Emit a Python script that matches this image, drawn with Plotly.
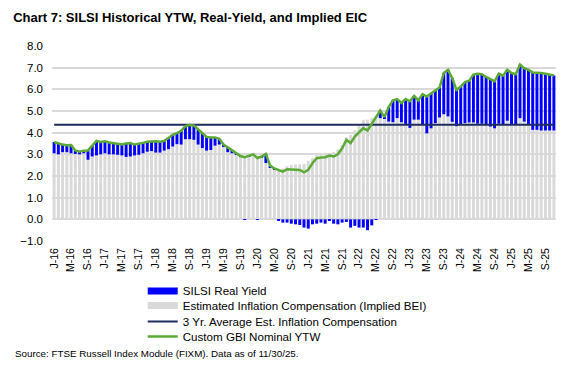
import plotly.graph_objects as go
import pandas as pd

# Monthly observations Jan-2016 .. Nov-2025
MONTHS = [d.strftime("%Y-%m") for d in pd.date_range("2016-01-01", "2025-11-01", freq="MS")]

NOMINAL_YTW = [3.57, 3.50, 3.45, 3.42, 3.43, 3.18, 3.12, 3.17, 3.18, 3.40, 3.62, 3.57,
               3.60, 3.55, 3.52, 3.48, 3.46, 3.50, 3.52, 3.45, 3.48, 3.53, 3.58, 3.60,
               3.60, 3.58, 3.62, 3.75, 3.90, 3.98, 4.08, 4.30, 4.35, 4.33, 4.15, 3.98,
               3.80, 3.78, 3.78, 3.72, 3.45, 3.32, 3.18, 3.02, 2.92, 2.87, 2.95, 3.00,
               2.83, 2.90, 3.02, 2.48, 2.35, 2.28, 2.20, 2.31, 2.31, 2.30, 2.28, 2.17,
               2.28, 2.59, 2.82, 2.85, 2.87, 2.94, 2.90, 3.00, 3.28, 3.67, 3.52, 3.82,
               4.00, 4.21, 4.10, 4.41, 4.75, 5.02, 4.72, 5.18, 5.49, 5.55, 5.37, 5.55,
               5.45, 5.70, 5.49, 5.78, 5.67, 5.82, 5.95, 6.08, 6.75, 6.90, 6.52, 5.97,
               6.13, 6.33, 6.40, 6.68, 6.72, 6.70, 6.57, 6.48, 6.37, 6.72, 6.63, 6.90,
               6.75, 6.70, 7.14, 6.98, 6.90, 6.78, 6.78, 6.75, 6.72, 6.68, 6.64]

IMPLIED_BEI = [3.05, 3.00, 3.10, 3.10, 3.05, 3.02, 3.00, 3.05, 2.75, 2.90, 2.95, 3.00,
               3.05, 3.00, 3.00, 2.98, 2.95, 2.88, 2.90, 2.95, 2.98, 3.05, 3.12, 3.15,
               3.08, 3.08, 3.17, 3.24, 3.36, 3.47, 3.45, 3.70, 3.70, 3.67, 3.45, 3.29,
               3.17, 3.20, 3.40, 3.45, 3.34, 3.10, 3.05, 2.97, 2.88, 2.90, 2.92, 2.98,
               2.86, 2.85, 2.60, 2.37, 2.30, 2.33, 2.35, 2.46, 2.51, 2.53, 2.54, 2.55,
               2.71, 2.82, 3.02, 3.00, 3.07, 3.02, 3.10, 3.23, 3.43, 3.79, 3.90, 4.12,
               4.38, 4.59, 4.60, 4.69, 4.78, 4.67, 4.67, 4.51, 4.48, 4.67, 4.48, 4.36,
               4.22, 4.60, 4.60, 4.40, 3.97, 4.20, 4.44, 4.70, 4.85, 4.75, 4.50, 4.30,
               4.36, 4.44, 4.47, 4.47, 4.41, 4.41, 4.36, 4.28, 4.20, 4.41, 4.36, 4.55,
               4.36, 4.36, 4.67, 4.51, 4.36, 4.13, 4.13, 4.10, 4.10, 4.10, 4.10]

REAL_YIELD = [0.52, 0.50, 0.35, 0.32, 0.38, 0.16, 0.12, 0.12, 0.43, 0.50, 0.67, 0.57,
              0.55, 0.55, 0.52, 0.50, 0.51, 0.62, 0.62, 0.50, 0.50, 0.48, 0.46, 0.45,
              0.52, 0.50, 0.45, 0.51, 0.54, 0.51, 0.63, 0.60, 0.65, 0.66, 0.70, 0.69,
              0.63, 0.58, 0.38, 0.27, 0.11, 0.22, 0.13, 0.05, 0.04, -0.03, 0.03, 0.02,
              -0.03, 0.05, 0.42, 0.11, 0.05, -0.05, -0.15, -0.15, -0.20, -0.23, -0.26, -0.38,
              -0.43, -0.23, -0.20, -0.15, -0.20, -0.08, -0.20, -0.23, -0.15, -0.12, -0.38, -0.30,
              -0.38, -0.38, -0.50, -0.28, -0.03, 0.35, 0.05, 0.67, 1.01, 0.88, 0.89, 1.19,
              1.23, 1.10, 0.89, 1.38, 1.70, 1.62, 1.51, 1.38, 1.90, 2.15, 2.02, 1.67,
              1.77, 1.89, 1.93, 2.21, 2.31, 2.29, 2.21, 2.20, 2.17, 2.31, 2.27, 2.35,
              2.39, 2.34, 2.47, 2.47, 2.54, 2.65, 2.65, 2.65, 2.62, 2.58, 2.54]

AVG_3YR_BEI = 4.36

TICK_LABELS = []
for yy in range(16, 26):
    TICK_LABELS += [f"J-{yy}", f"M-{yy}", f"S-{yy}"]

BLUE = "#0000FF"
GREY = "#D9D9D9"
NAVY = "#1F2D5C"
GREEN = "#5BAA36"
FONT = "Liberation Sans, Arial, sans-serif"

fig = go.Figure()
fig.add_trace(go.Bar(x=MONTHS, y=IMPLIED_BEI, marker_color=GREY, marker_line_width=0,
                     showlegend=False, name="Estimated Inflation Compensation (Implied BEI)"))
fig.add_trace(go.Bar(x=MONTHS, y=REAL_YIELD, marker_color=BLUE, marker_line_width=0,
                     showlegend=False, name="SILSI Real Yield"))
fig.add_trace(go.Scatter(x=MONTHS, y=[AVG_3YR_BEI] * len(MONTHS), mode="lines",
                         line=dict(color=NAVY, width=2), showlegend=False))
fig.add_trace(go.Scatter(x=MONTHS, y=NOMINAL_YTW, mode="lines",
                         line=dict(color=GREEN, width=2.5), showlegend=False))

# legend entries, each in its own legend box to control spacing
legend_items = [("SILSI Real Yield", BLUE, 7, -0.256),
                ("Estimated Inflation Compensation (Implied BEI)", GREY, 7, -0.331),
                ("3 Yr. Average Est. Inflation Compensation", NAVY, 2, -0.413),
                ("Custom GBI Nominal YTW", GREEN, 2.5, -0.490)]
legend_layout = {}
for k, (nm, col, w, ly) in enumerate(legend_items):
    key = "legend" if k == 0 else f"legend{k + 1}"
    fig.add_trace(go.Scatter(x=[None], y=[None], mode="lines", name=nm,
                             line=dict(color=col, width=w), legend=key))
    legend_layout[key] = dict(x=0.18, xanchor="left", y=ly, yanchor="middle",
                              font=dict(family=FONT, size=11.6, color="#000000"),
                              bgcolor="rgba(0,0,0,0)", itemwidth=30)

fig.update_layout(
    width=571, height=371,
    margin=dict(l=52, r=15, t=46, b=130, autoexpand=False),
    paper_bgcolor="white", plot_bgcolor="white",
    barmode="relative", bargap=0.3,
    font=dict(family=FONT, size=11, color="#000000"),
    title=dict(text="<b>Chart 7: SILSI Historical YTW, Real-Yield, and Implied EIC</b>",
               x=0.023, xanchor="left", y=0.952, yanchor="middle",
               font=dict(family=FONT, size=13, color="#000000")),
    annotations=[dict(text="Source: FTSE Russell Index Module (FIXM). Data as of 11/30/25.",
                      xref="paper", yref="paper", x=-0.077, y=-0.579,
                      xanchor="left", yanchor="middle", showarrow=False,
                      font=dict(family=FONT, size=9.8, color="#000000"))],
    **legend_layout,
)
fig.update_yaxes(range=[-1, 8], dtick=1, tickformat=".1f", showgrid=True,
                 gridcolor="#D9D9D9", gridwidth=1.5, zeroline=False, showline=False,
                 ticklabelstandoff=8, tickfont=dict(size=11.5))
fig.update_xaxes(type="category", tickmode="array", tickvals=MONTHS[::4],
                 ticktext=TICK_LABELS, tickangle=-90, showgrid=False, showline=False,
                 ticks="", ticklabelstandoff=4, tickfont=dict(size=10.5),
                 range=[-0.5, len(MONTHS) - 0.5])

fig.write_html("out.html")
